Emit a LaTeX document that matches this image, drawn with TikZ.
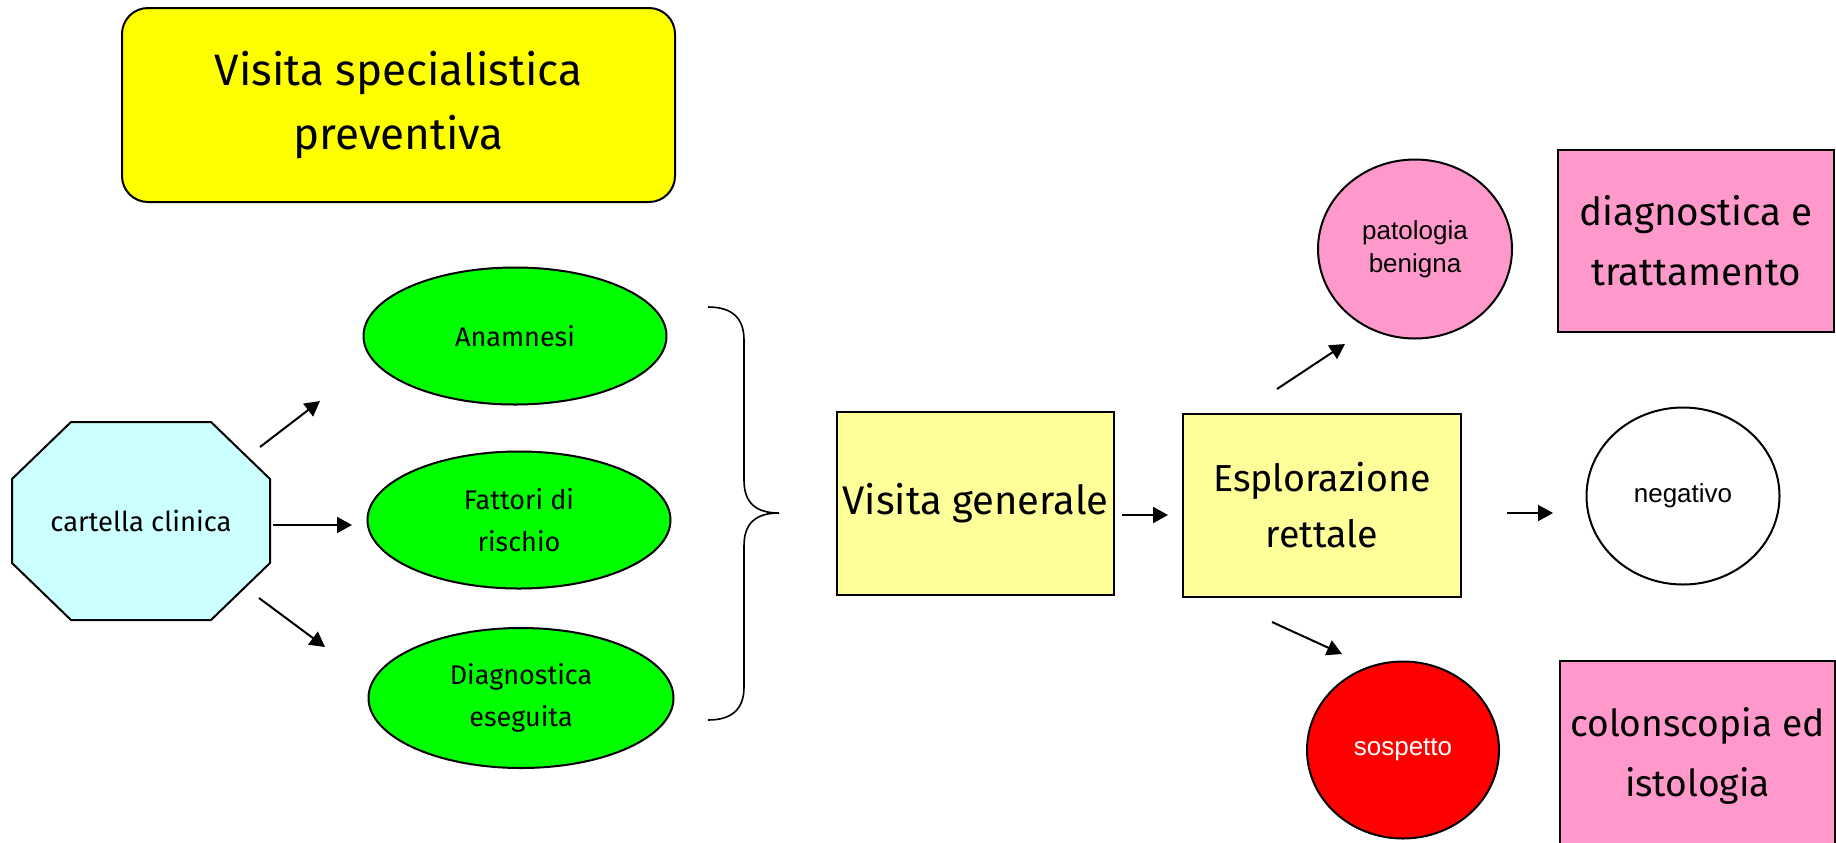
\documentclass[tikz,border=0pt]{standalone}
\usepackage{fontspec}
\setmainfont{Fira Sans}
\newfontfamily\arialfont{Liberation Sans}
\usetikzlibrary{arrows.meta,shapes.geometric}
\definecolor{giallo}{HTML}{FFFF00}
\definecolor{giallino}{HTML}{FFFF99}
\definecolor{celeste}{HTML}{CCFFFF}
\definecolor{verde}{HTML}{00FF00}
\definecolor{rosa}{HTML}{FF99CC}
\definecolor{rosso}{HTML}{FF0000}
\tikzset{
	freccia/.style={line width=1pt,-{Triangle[length=7.5pt,width=8pt]}},
	ovale/.style={ellipse,draw,line width=1pt,fill=verde,minimum width=151.5pt,minimum height=68.5pt,inner sep=0pt,align=center,font=\fontsize{13.5}{21}\selectfont},
	riquadro/.style={rectangle,draw,line width=1pt,fill=giallino,minimum width=139pt,minimum height=91.5pt,inner sep=0pt,align=center,font=\fontsize{18.8}{28}\selectfont},
	esito/.style={ellipse,draw,line width=1pt,minimum width=96.5pt,minimum height=88.5pt,inner sep=0pt,align=center,font=\arialfont\fontsize{13}{16.5}\selectfont},
	cartellino/.style={rectangle,draw,line width=1pt,fill=rosa,minimum width=138pt,minimum height=91pt,inner sep=0pt,align=center,font=\fontsize{18.6}{30}\selectfont},
}

\begin{document}
\begin{tikzpicture}[x=0.5pt,y=-0.5pt]
	%%%%% START %%%%%
	\useasboundingbox (0,0) rectangle (1836,842);
	
	\node[draw,line width=1pt,fill=giallo,rounded corners=13pt,minimum width=276.5pt,minimum height=97pt,align=center,font=\fontsize{22}{32}\selectfont] (spec) at (398.5,105) {Visita specialistica\\preventiva};
	
	% cartella clinica
	\draw[fill=celeste,line width=1pt] (71,422) -- (211,422) -- (270,479) -- (270,563) -- (211,620) -- (71,620) -- (12,563) -- (12,479) -- cycle;
	\node[font=\fontsize{13.7}{16}\selectfont] (cart) at (141,521) {cartella clinica};
	
	\node[ovale] (anam) at (515,336) {Anamnesi};
	\node[ovale] (fatt) at (519,520) {Fattori di\\rischio};
	\node[ovale,minimum width=152.5pt,minimum height=70pt] (esegu) at (521,698) {Diagnostica\\eseguita};
	
	\coordinate (c1) at (260,447); \coordinate (a1) at (320,401);
	\coordinate (c2) at (273,525); \coordinate (a2) at (352,525);
	\coordinate (c3) at (259,598); \coordinate (a3) at (325,647);
	\draw[freccia] (c1) -- (a1);
	\draw[freccia] (c2) -- (a2);
	\draw[freccia] (c3) -- (a3);
	
	% graffa
	\draw[line width=0.8pt] (708,307) .. controls (732,307) and (744,318) .. (744,340) -- (744,480) .. controls (744,503) and (756,513) .. (779,513) .. controls (756,513) and (744,523) .. (744,546) -- (744,687) .. controls (744,709) and (732,720) .. (708,720);
	
	\node[riquadro,minimum width=138.5pt,font=\fontsize{20}{28}\selectfont] (gen) at (975.5,503.5) {Visita generale};
	\node[riquadro] (espl) at (1322,505.5) {Esplorazione\\rettale};
	
	\node[esito,fill=rosa,minimum width=97pt,minimum height=89.5pt] (benigna) at (1415,249) {patologia\\benigna};
	\node[esito,fill=white] (neg) at (1683,496) {negativo};
	\node[esito,fill=rosso,text=white,minimum width=96pt] (sosp) at (1403,750) {sospetto};
	
	\node[cartellino,font=\fontsize{19.3}{30}\selectfont] (tratt) at (1696,241) {diagnostica e\\trattamento};
	\node[cartellino,minimum width=137.5pt,minimum height=95pt] (isto) at (1697.5,756) {colonscopia ed\\istologia};
	
	\coordinate (g1) at (1122,515); \coordinate (e1) at (1168,515);
	\coordinate (e2) at (1277,389); \coordinate (b2) at (1345,344);
	\coordinate (e3) at (1507,513); \coordinate (n3) at (1553,513);
	\coordinate (e4) at (1272,622); \coordinate (s4) at (1342,654);
	\draw[freccia] (g1) -- (e1);
	\draw[freccia] (e2) -- (b2);
	\draw[freccia] (e3) -- (n3);
	\draw[freccia] (e4) -- (s4);
	
	%%%%% END %%%%%
\end{tikzpicture}
\end{document}
